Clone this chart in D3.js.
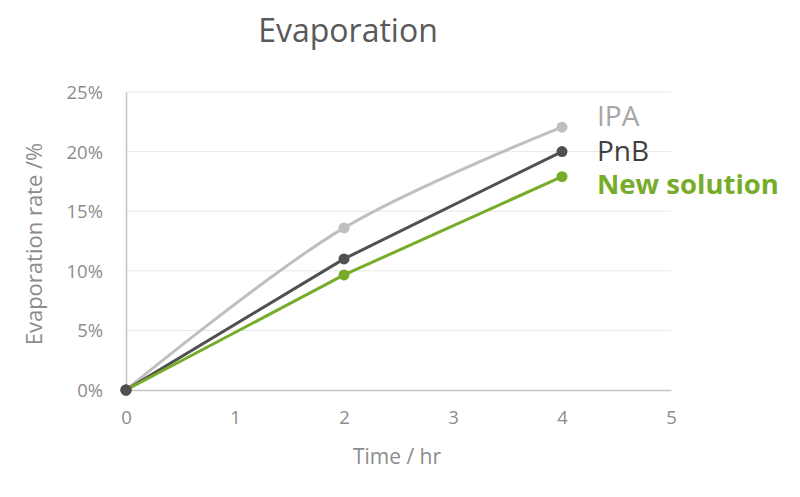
<!DOCTYPE html>
<html>
<head>
<meta charset="utf-8">
<script src="https://cdn.jsdelivr.net/npm/d3@7"></script>
<style>
  body { margin: 0; background: #fff; }
  svg { font-family: "Open Sans", sans-serif; }
</style>
</head>
<body>
<div id="app"></div>
<script>
// data
var times = [0, 2, 4];
var ipa = [0, 13.6, 22.05];
var pnb = [0, 11.0, 20.0];
var newSolution = [0, 9.65, 17.9];
var seriesNames = ['IPA', 'PnB', 'New solution'];
var xTicks = [0, 1, 2, 3, 4, 5];
var yTicks = [0, 5, 10, 15, 20, 25];

var width = 800, height = 497;
var colors = ['#bfbfbf', '#505050', '#77ac2a'];
var labelColors = ['#a6a6a6', '#404040', '#77ac2a'];

var svg = d3.select('#app').append('svg')
  .attr('width', width)
  .attr('height', height);

var x = d3.scaleLinear().domain([0, 5]).range([126, 671]);
var y = d3.scaleLinear().domain([0, 25]).range([390, 92]);

// gridlines
svg.append('g')
  .selectAll('line')
  .data(yTicks.slice(1))
  .enter()
  .append('line')
  .attr('x1', x(0)).attr('x2', x(5))
  .attr('y1', d => y(d)).attr('y2', d => y(d))
  .attr('stroke', '#e8e8e8')
  .attr('stroke-width', 1);

// axes
var xAxis = svg.append('g')
  .attr('transform', 'translate(0,' + y(0) + ')')
  .call(d3.axisBottom(x).tickValues(xTicks).tickSize(0).tickPadding(21).tickFormat(d3.format('d')));
var yAxis = svg.append('g')
  .attr('transform', 'translate(' + x(0) + ',0)')
  .call(d3.axisLeft(y).tickValues(yTicks).tickSize(0).tickPadding(23).tickFormat(d => d + '%'));

[xAxis, yAxis].forEach(function (a) {
  a.select('.domain').attr('stroke', '#c4c4c4').attr('stroke-width', 1.5);
  a.selectAll('text').attr('fill', '#8c8c8c').style('font-size', '18.5px').style('font-family', '"Open Sans", sans-serif');
});
yAxis.selectAll('text').attr('dy', '0.35em');

// axis titles
svg.append('text')
  .attr('x', 397).attr('y', 464)
  .attr('text-anchor', 'middle')
  .attr('fill', '#8c8c8c')
  .style('font-size', '21px')
  .text('Time / hr');

svg.append('text')
  .attr('transform', 'translate(42,244) rotate(-90)')
  .attr('text-anchor', 'middle')
  .attr('fill', '#8c8c8c')
  .style('font-size', '22px')
  .text('Evaporation rate /%');

// title
svg.append('text')
  .attr('x', 348).attr('y', 42)
  .attr('text-anchor', 'middle')
  .attr('fill', '#595959')
  .style('font-size', '32px')
  .text('Evaporation');

// series
var allSeries = [ipa, pnb, newSolution];
var curves = [d3.curveCatmullRom, d3.curveLinear, d3.curveLinear];

allSeries.forEach(function (vals, i) {
  var pts = times.map((t, j) => [t, vals[j]]);
  var line = d3.line()
    .x(d => x(d[0]))
    .y(d => y(d[1]))
    .curve(curves[i]);
  var g = svg.append('g').attr('class', 'series');
  g.append('path')
    .datum(pts)
    .attr('d', line)
    .attr('fill', 'none')
    .attr('stroke', colors[i])
    .attr('stroke-width', 3);
  g.selectAll('circle')
    .data(pts)
    .enter()
    .append('circle')
    .attr('cx', d => x(d[0]))
    .attr('cy', d => y(d[1]))
    .attr('r', 5.5)
    .attr('fill', (d, j) => j === 0 ? '#505050' : colors[i]);
});

// end labels
var labelY = [126, 161, 194];
svg.append('g')
  .selectAll('text')
  .data(seriesNames)
  .enter()
  .append('text')
  .attr('x', 597)
  .attr('y', (d, i) => labelY[i])
  .attr('fill', (d, i) => labelColors[i])
  .style('font-size', (d, i) => i === 2 ? '27.5px' : '28px')
  .style('font-weight', (d, i) => i === 2 ? 'bold' : 'normal')
  .text(d => d);
</script>
</body>
</html>
